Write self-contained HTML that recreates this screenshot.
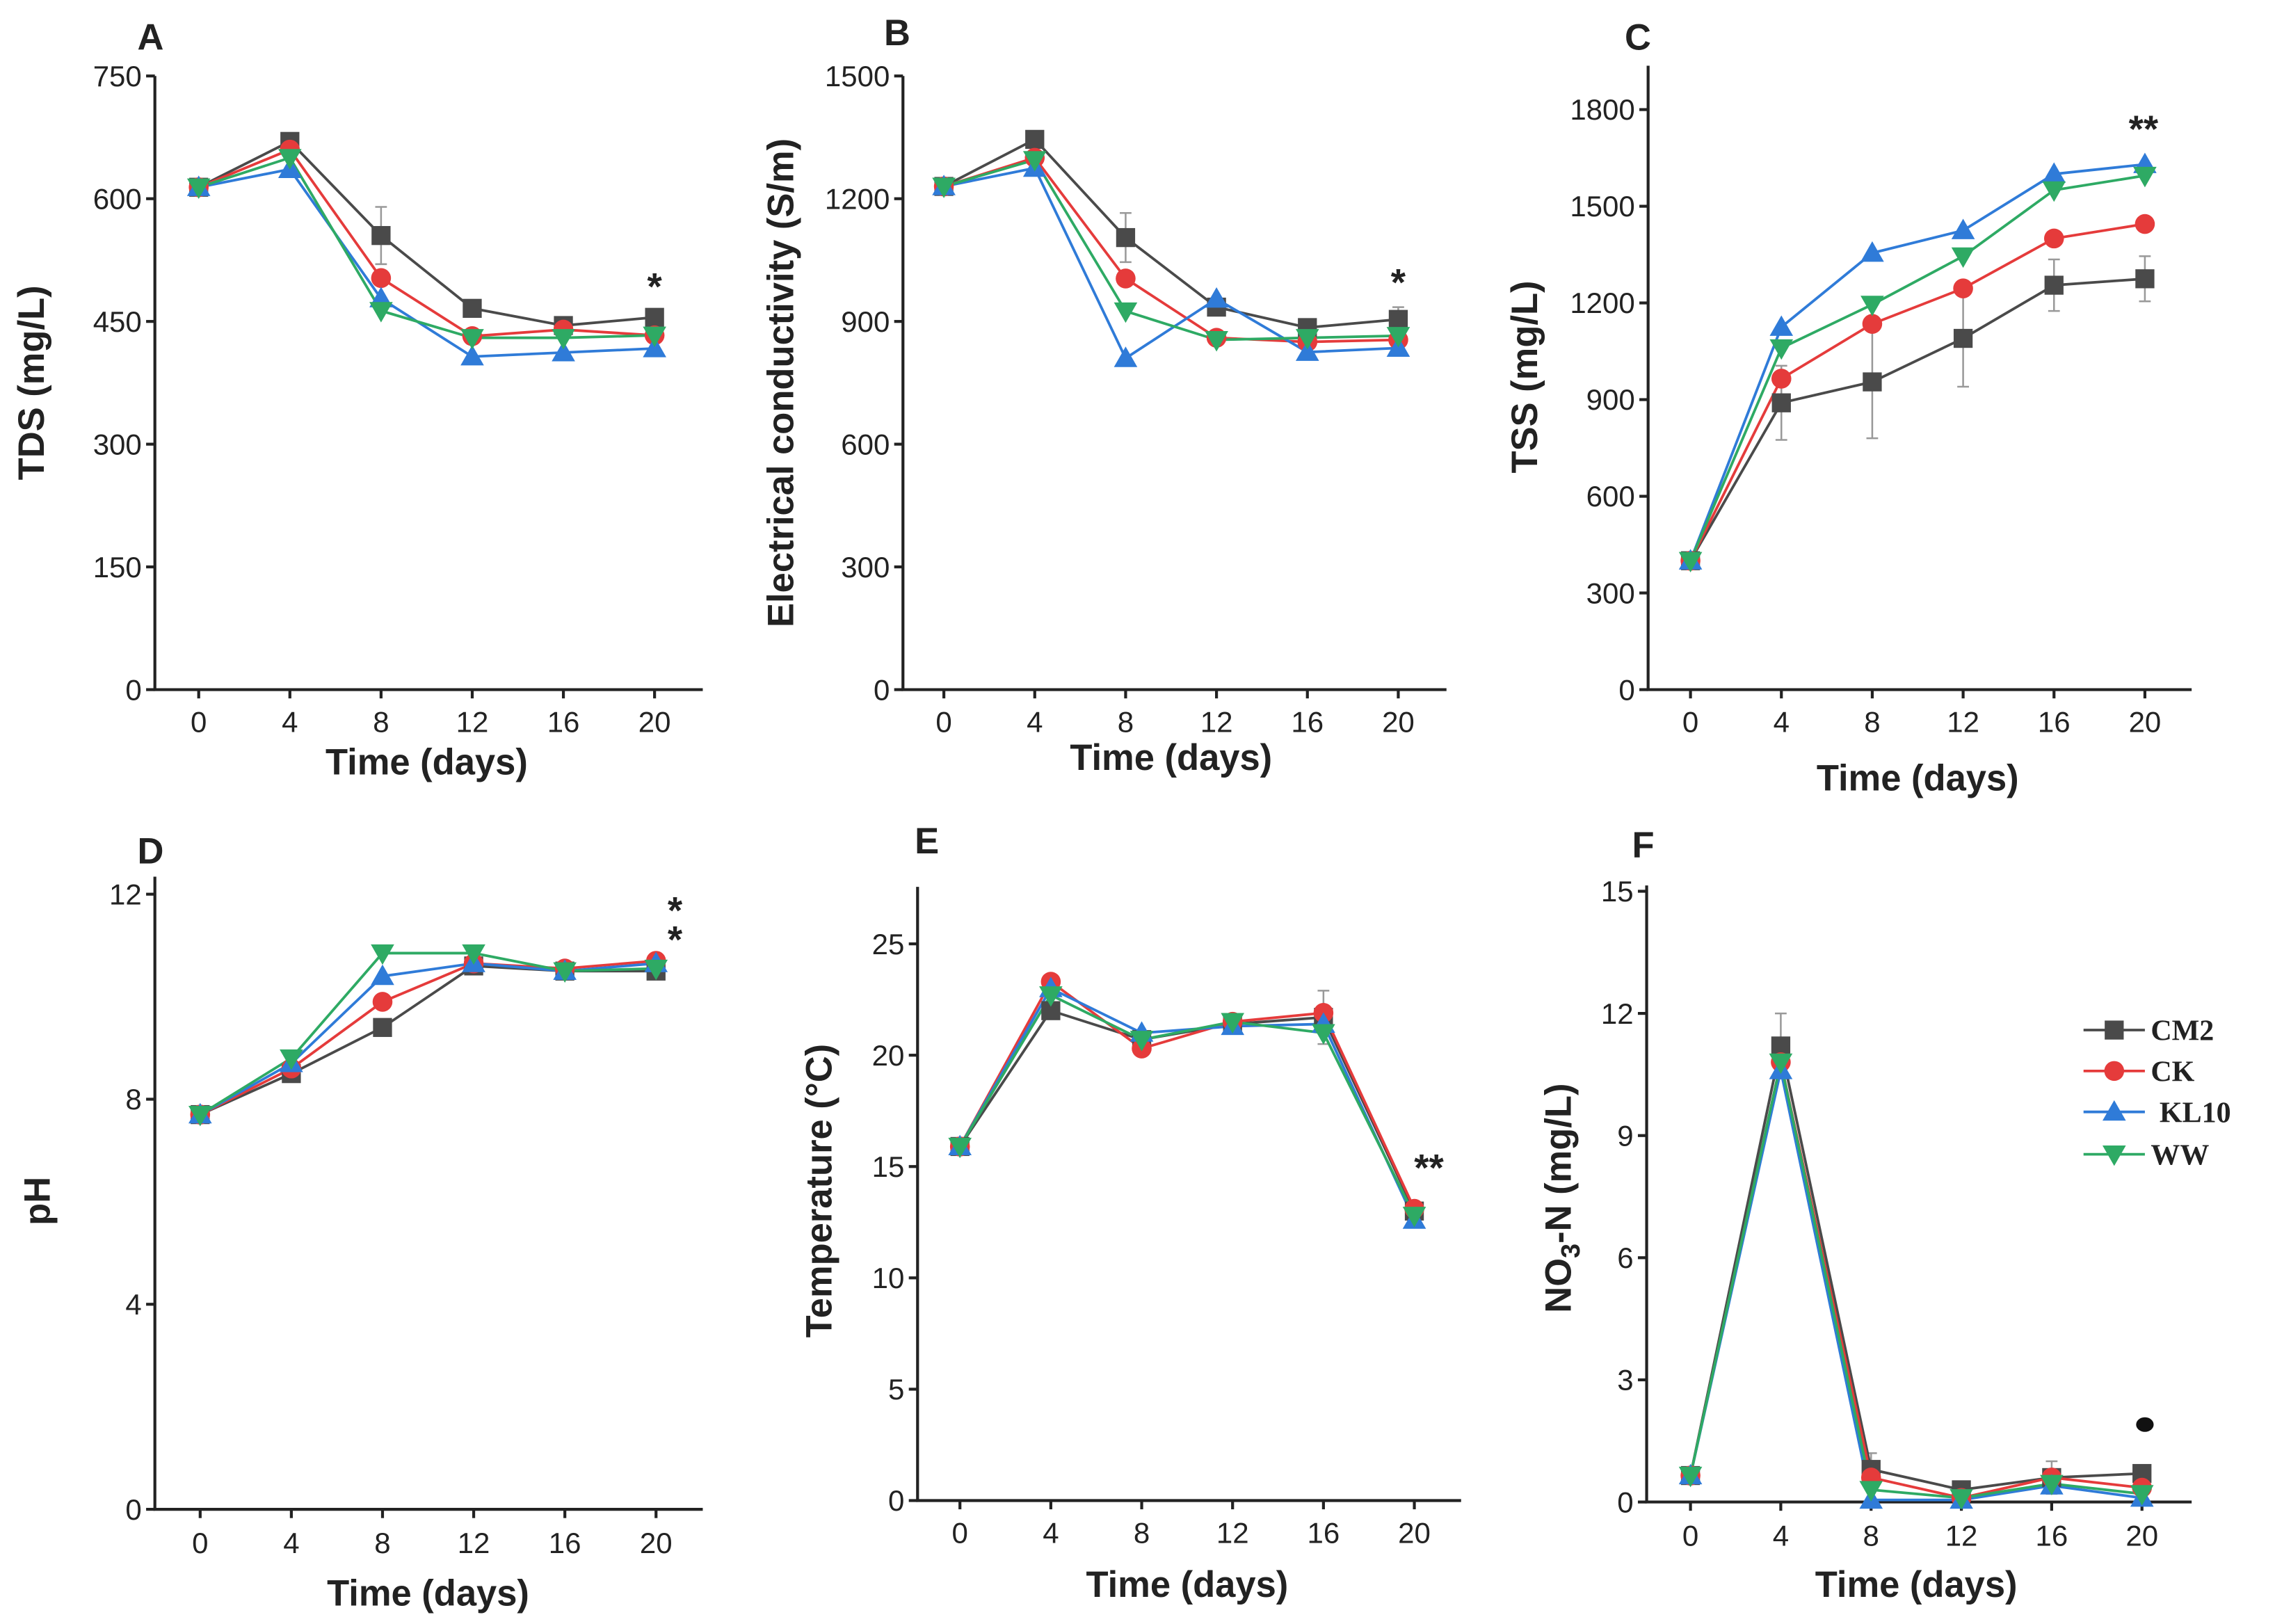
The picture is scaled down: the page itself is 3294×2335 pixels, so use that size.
<!DOCTYPE html>
<html><head><meta charset="utf-8"><style>
html,body{margin:0;padding:0;background:#fff}
svg{display:block}
text{font-family:"Liberation Sans",Arial,sans-serif;fill:#222}
.tick{font-size:20px}
.title{font-size:25px;font-weight:bold}
.panel{font-size:25px;font-weight:bold}
.leg{font-family:"Liberation Serif",serif;font-size:20px;font-weight:bold}
</style></head><body>
<svg id="fig" width="3294" height="2335" viewBox="0 0 1568 1111.5" preserveAspectRatio="none" xmlns="http://www.w3.org/2000/svg"></svg>
<script>
const days=[0,4,8,12,16,20];
const xTicks=[0,4,8,12,16,20];
const seriesNames=["CM2","CK","KL10","WW"];
const seriesColors=["#4a4a4a","#e53b3b","#2f7bd8","#2eaa64"];
// A TDS
const tdsTicks=[0,150,300,450,600,750];
const tdsCM2=[614,670,555,466,445,455];
const tdsCK=[614,660,503,432,440,433];
const tdsKL10=[614,636,478,407,412,417];
const tdsWW=[614,650,463,430,430,433];
const tdsErrCM2=[0,5,35,5,10,10];
// B EC
const ecTicks=[0,300,600,900,1200,1500];
const ecCM2=[1230,1345,1105,935,885,905];
const ecCK=[1230,1300,1005,860,850,855];
const ecKL10=[1230,1275,810,955,825,835];
const ecWW=[1230,1295,925,855,860,865];
const ecErrCM2=[0,10,60,20,20,30];
// C TSS
const tssTicks=[0,300,600,900,1200,1500,1800];
const tssCM2=[400,890,955,1090,1255,1275];
const tssCK=[400,965,1135,1245,1400,1445];
const tssKL10=[400,1125,1355,1425,1600,1630];
const tssWW=[400,1060,1195,1345,1550,1595];
const tssErrCM2=[0,115,175,150,80,70];
// D pH
const phTicks=[0,4,8,12];
const phCM2=[7.7,8.5,9.4,10.6,10.5,10.5];
const phCK=[7.7,8.6,9.9,10.65,10.55,10.7];
const phKL10=[7.7,8.7,10.4,10.65,10.5,10.65];
const phWW=[7.7,8.8,10.85,10.85,10.5,10.55];
const phErrCM2=[0,0,0,0,0,0];
// E Temperature
const tempTicks=[0,5,10,15,20,25];
const tempCM2=[15.9,22.0,20.7,21.4,21.7,13.0];
const tempCK=[15.9,23.3,20.3,21.5,21.9,13.1];
const tempKL10=[15.9,23.0,21.0,21.3,21.4,12.6];
const tempWW=[15.9,22.7,20.7,21.5,21.0,12.8];
const tempErrCM2=[0,0,0,0,1.2,0];
// F NO3-N
const no3Ticks=[0,3,6,9,12,15];
const no3CM2=[0.65,11.2,0.8,0.3,0.6,0.7];
const no3CK=[0.65,10.8,0.6,0.1,0.6,0.35];
const no3KL10=[0.65,10.6,0.05,0.05,0.4,0.1];
const no3WW=[0.65,10.8,0.3,0.1,0.45,0.2];
const no3ErrCM2=[0,0.8,0.4,0,0.4,0];

const NS="http://www.w3.org/2000/svg";
const svg=document.getElementById('fig');
function el(tag,attrs,parent,txt){const e=document.createElementNS(NS,tag);for(const k in attrs)e.setAttribute(k,attrs[k]);if(txt!==undefined)e.textContent=txt;(parent||svg).appendChild(e);return e;}

const panels=[
 {id:"a",letter:"A",lx:94,ly:34,ax:106,x0:136,x1:448,xend:481,ymin:0,ymax:750,y0:472,y1:52,axTop:52,ticks:tdsTicks,data:[tdsCM2,tdsCK,tdsKL10,tdsWW],err:tdsErrCM2,xlabY:530,tickY:501,ytitle:"TDS (mg/L)",ytX:30,ytY:262},
 {id:"b",letter:"B",lx:605,ly:31,ax:618,x0:646,x1:957,xend:990,ymin:0,ymax:1500,y0:472,y1:52,axTop:52,ticks:ecTicks,data:[ecCM2,ecCK,ecKL10,ecWW],err:ecErrCM2,xlabY:527,tickY:501,ytitle:"Electrical conductivity (S/m)",ytX:543,ytY:262},
 {id:"c",letter:"C",lx:1112,ly:34,ax:1128,x0:1157,x1:1468,xend:1500,ymin:0,ymax:1800,y0:472,y1:75,axTop:45,ticks:tssTicks,data:[tssCM2,tssCK,tssKL10,tssWW],err:tssErrCM2,xlabY:541,tickY:501,ytitle:"TSS (mg/L)",ytX:1052,ytY:258},
 {id:"d",letter:"D",lx:94,ly:591,ax:106,x0:137,x1:449,xend:481,ymin:0,ymax:12,y0:1033,y1:612,axTop:600,ticks:phTicks,data:[phCM2,phCK,phKL10,phWW],err:phErrCM2,xlabY:1099,tickY:1063,ytitle:"pH",ytX:34,ytY:822},
 {id:"e",letter:"E",lx:626,ly:584,ax:628,x0:657,x1:968,xend:1000,ymin:0,ymax:25,y0:1027,y1:646,axTop:607,ticks:tempTicks,data:[tempCM2,tempCK,tempKL10,tempWW],err:tempErrCM2,xlabY:1093,tickY:1056,ytitle:"Temperature (°C)",ytX:569,ytY:815},
 {id:"f",letter:"F",lx:1117,ly:587,ax:1127,x0:1157,x1:1466,xend:1500,ymin:0,ymax:15,y0:1028,y1:610,axTop:606,ticks:no3Ticks,data:[no3CM2,no3CK,no3KL10,no3WW],err:no3ErrCM2,xlabY:1093,tickY:1058,ytitle:"NO3-N (mg/L)",ytX:1075,ytY:820}
];

function marker(g,k,x,y,c){
  let m;
  if(k===0){m=el('rect',{x:x-6.5,y:y-6.5,width:13,height:13,fill:c},g);}
  else if(k===1){m=el('circle',{cx:x,cy:y,r:6.8,fill:c},g);}
  else if(k===2){m=el('polygon',{points:`${x},${y-8} ${x-8},${y+6} ${x+8},${y+6}`,fill:c},g);}
  else {m=el('polygon',{points:`${x},${y+8} ${x-8},${y-6} ${x+8},${y-6}`,fill:c},g);}
  
  
}

panels.forEach(p=>{
  const g=el('g',{});
  
  
  const xs=d=>p.x0+(d-xTicks[0])/(xTicks[xTicks.length-1]-xTicks[0])*(p.x1-p.x0);
  const ys=v=>p.y0-(v-p.ymin)/(p.ymax-p.ymin)*(p.y0-p.y1);
  const pl=el('text',{x:p.lx,y:p.ly,class:'panel'},g,p.letter);
  
  
  const ya=el('line',{x1:p.ax,y1:p.axTop,x2:p.ax,y2:p.y0,stroke:'#222','stroke-width':2},g);
  
  
  const xa=el('line',{x1:p.ax-1,y1:p.y0,x2:p.xend,y2:p.y0,stroke:'#222','stroke-width':2},g);
  
  
  p.ticks.forEach(t=>{
    const y=ys(t);
    el('line',{x1:p.ax-6,y1:y,x2:p.ax,y2:y,stroke:'#222','stroke-width':2},g);
    const tl=el('text',{x:p.ax-9,y:y+7,class:'tick','text-anchor':'end'},g,String(t));
    
    
  });
  xTicks.forEach(t=>{
    const x=xs(t);
    el('line',{x1:x,y1:p.y0,x2:x,y2:p.y0+6,stroke:'#222','stroke-width':2},g);
    const tl=el('text',{x:x,y:p.tickY,class:'tick','text-anchor':'middle'},g,String(t));
    
    
  });
  const xt=el('text',{x:(p.x0+p.x1)/2,y:p.xlabY,class:'title','text-anchor':'middle'},g,'Time (days)');
  
  
  let yt;
  if(p.id==='f'){
    yt=el('text',{x:p.ytX,y:p.ytY,class:'title','text-anchor':'middle',transform:`rotate(-90 ${p.ytX} ${p.ytY})`},g);
    el('tspan',{},yt,'NO');
    el('tspan',{'font-size':'18','dy':'6'},yt,'3');
    el('tspan',{'dy':'-6'},yt,'-N (mg/L)');
  } else {
    yt=el('text',{x:p.ytX,y:p.ytY,class:'title','text-anchor':'middle',transform:`rotate(-90 ${p.ytX} ${p.ytY})`},g,p.ytitle);
  }
  
  
  p.err.forEach((e,i)=>{
    if(e>0){
      const x=xs(days[i]);
      el('line',{x1:x,y1:ys(p.data[0][i]-e),x2:x,y2:ys(p.data[0][i]+e),stroke:'#999','stroke-width':1.2},g);
      el('line',{x1:x-4,y1:ys(p.data[0][i]+e),x2:x+4,y2:ys(p.data[0][i]+e),stroke:'#999','stroke-width':1.2},g);
      el('line',{x1:x-4,y1:ys(p.data[0][i]-e),x2:x+4,y2:ys(p.data[0][i]-e),stroke:'#999','stroke-width':1.2},g);
    }
  });
  p.data.forEach((arr,k)=>{
    const pts=arr.map((v,i)=>xs(days[i])+','+ys(v)).join(' ');
    const ln=el('polyline',{points:pts,fill:'none',stroke:seriesColors[k],'stroke-width':1.8},g);
    
    
  });
  p.data.forEach((arr,k)=>{arr.forEach((v,i)=>marker(g,k,xs(days[i]),ys(v),seriesColors[k]));});
});

function ann(x,y,t,fs){const a=el('text',{x:x,y:y,'text-anchor':'middle','font-size':fs||26,'font-weight':'bold'},svg,t);

}
ann(448,205,'*');ann(957,202,'*');ann(1467,97,'**');
ann(462,632,'*');ann(462,652,'*');ann(978,808,'**');
const dot=el('ellipse',{cx:1468,cy:975,rx:6,ry:5,fill:'#111'});



const lg=el('g',{});


const legY=[705,733,761,790];
seriesNames.forEach((n,k)=>{
  const y=legY[k];
  const ln=el('line',{x1:1426,y1:y,x2:1468,y2:y,stroke:seriesColors[k],'stroke-width':1.8},lg);
  
  
  marker(lg,k,1447,y,seriesColors[k]);
  const t=el('text',{x:k===2?1478:1472,y:y+7,class:'leg'},lg,n);
  
  
});
</script>
</body></html>
